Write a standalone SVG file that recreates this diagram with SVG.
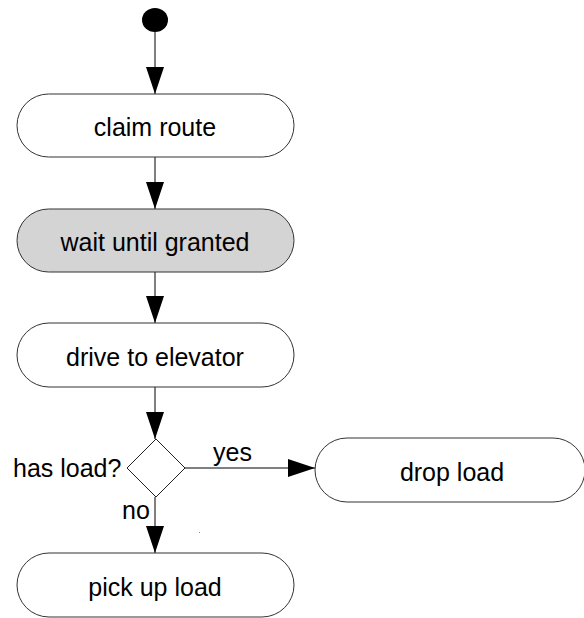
<svg xmlns="http://www.w3.org/2000/svg" width="584" height="618" viewBox="0 0 584 618">
  <style>
    .act { fill: #ffffff; stroke: #333333; stroke-width: 1; }
    .act.busy { fill: #d4d4d4; }
    .dec { fill: #ffffff; stroke: #222222; stroke-width: 1; }
    .lbl { font-family: "Liberation Sans", Arial, sans-serif; font-size: 25px; fill: #000000; }
    .mid { text-anchor: middle; }
    .flow { stroke: #000000; stroke-width: 1; fill: none; marker-end: url(#head); }
  </style>
  <defs>
    <marker id="head" markerUnits="userSpaceOnUse" markerWidth="28" markerHeight="20" refX="27" refY="9" orient="auto">
      <path d="M0,0 L27,9 L0,18 Z" fill="#000000"/>
    </marker>
  </defs>
  <rect width="584" height="618" fill="#ffffff"/>

  <g id="connectors">
    <path class="flow" d="M155,32 V94"/>
    <path class="flow" d="M155,157 V209"/>
    <path class="flow" d="M155,272 V323"/>
    <path class="flow" d="M155,387 V439"/>
    <path class="flow" d="M185,468 H315"/>
    <path class="flow" d="M155,497 V553"/>
    <text class="lbl" x="213" y="461">yes</text>
    <text class="lbl" x="122" y="519">no</text>
  </g>

  <g id="start">
    <ellipse cx="155" cy="20" rx="13" ry="12" fill="#000000"/>
  </g>

  <g id="claim-route">
    <rect class="act" x="17" y="94" width="277" height="63" rx="31.5"/>
    <text class="lbl mid" x="155" y="136">claim route</text>
  </g>

  <g id="wait-until-granted">
    <rect class="act busy" x="17" y="209" width="277" height="63" rx="31.5"/>
    <text class="lbl mid" x="155" y="251">wait until granted</text>
  </g>

  <g id="drive-to-elevator">
    <rect class="act" x="17" y="323" width="277" height="64" rx="32"/>
    <text class="lbl mid" x="155" y="366">drive to elevator</text>
  </g>

  <g id="has-load">
    <path class="dec" d="M156,439 L185,468 L156,497 L127,468 Z"/>
    <text class="lbl" x="13" y="477">has load?</text>
  </g>

  <g id="drop-load">
    <rect class="act" x="315" y="438" width="270" height="64" rx="32"/>
    <text class="lbl mid" x="452" y="481">drop load</text>
  </g>

  <g id="pick-up-load">
    <rect class="act" x="17" y="553" width="277" height="64" rx="32"/>
    <text class="lbl mid" x="155" y="596">pick up load</text>
  </g>

  <rect x="199" y="532" width="1" height="1" fill="#888888"/>
</svg>
